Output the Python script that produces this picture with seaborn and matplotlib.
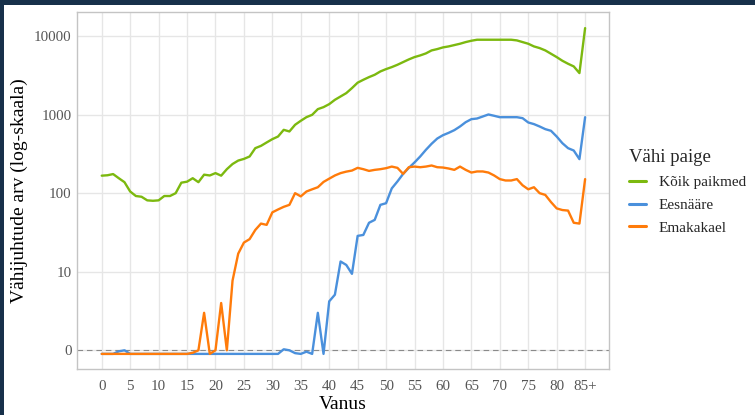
import matplotlib
matplotlib.use("Agg")
import matplotlib.pyplot as plt
from matplotlib.patches import Rectangle
from matplotlib.lines import Line2D
import numpy as np
import pandas as pd
import seaborn as sns

# Age groups (last one is 85+)
ages = list(range(86))
x_ticks = list(range(0, 86, 5))
x_tick_labels = [str(a) for a in range(0, 85, 5)] + ["85+"]

# Cases per age, three cancer sites
koik_paikmed = [167, 169, 175, 155, 138, 105, 92, 90, 81, 80,
                81, 92, 92, 100, 136, 140, 155, 138, 172, 168,
                180, 167, 202, 235, 260, 273, 293, 374, 400, 442,
                487, 526, 640, 610, 742, 834, 928, 994, 1174, 1245,
                1359, 1543, 1702, 1877, 2174, 2550, 2775, 3001, 3214, 3544,
                3795, 4024, 4309, 4661, 5040, 5397, 5667, 6010, 6561, 6823,
                7166, 7379, 7674, 7980, 8378, 8713, 8974, 8974, 8974, 8974,
                8974, 8974, 8974, 8800, 8378, 7980, 7379, 7026, 6561, 5951,
                5397, 4846, 4438, 4105, 3376, 12620]
eesnaare = [0.9, 0.9, 0.9, 0.97, 1.0, 0.9, 0.9, 0.9, 0.9, 0.9,
            0.9, 0.9, 0.9, 0.9, 0.9, 0.9, 0.9, 0.9, 0.9, 0.9,
            0.9, 0.9, 0.9, 0.9, 0.9, 0.9, 0.9, 0.9, 0.9, 0.9,
            0.9, 0.9, 1.03, 1.0, 0.92, 0.9, 0.96, 0.9, 3.0, 0.9,
            4.2, 5.1, 13.5, 12.2, 9.4, 28.6, 29.4, 42, 45.7, 71,
            74.5, 115, 141, 176, 210, 246, 293, 356, 425, 496,
            547, 586, 634, 706, 801, 875, 892, 946, 1004, 966,
            927, 927, 927, 927, 901, 794, 757, 706, 653, 622,
            526, 433, 374, 349, 271, 927]
emakakael = [0.9, 0.9, 0.9, 0.9, 0.9, 0.9, 0.9, 0.9, 0.9, 0.9,
             0.9, 0.9, 0.9, 0.9, 0.9, 0.9, 0.93, 1.0, 3.0, 0.9,
             1.0, 4.0, 1.0, 7.7, 17, 23.5, 26, 34, 41, 39.5,
             57, 62, 67, 71, 100, 91, 105, 112, 119, 139,
             153, 168, 180, 188, 194, 210, 202, 192, 198, 202,
             208, 218, 210, 176, 214, 218, 214, 218, 225, 214,
             212, 206, 198, 218, 198, 183, 189, 189, 183, 168,
             151, 145, 145, 151, 126, 112, 119, 100, 95, 77,
             64, 61, 60, 42, 41, 151]

sites = ["Kõik paikmed", "Eesnääre", "Emakakael"]
colors = ["#7cb90f", "#4a90dc", "#ff7b0a"]
y_ticks = [1, 10, 100, 1000, 10000]
y_tick_labels = ["0", "10", "100", "1000", "10000"]

df = pd.concat([
    pd.DataFrame({"Vanus": ages, "Arv": vals, "Vähi paige": name})
    for name, vals in zip(sites, [koik_paikmed, eesnaare, emakakael])
], ignore_index=True)

sns.set_style("white")
plt.rcParams["font.family"] = ["Liberation Serif", "DejaVu Serif"]

W, H = 755, 415
fig = plt.figure(figsize=(W / 100, H / 100), dpi=100)
fig.patch.set_facecolor("#17304a")
fig.add_artist(Rectangle((4 / W, 0), 1, (H - 5) / H, transform=fig.transFigure,
                         facecolor="white", edgecolor="none", zorder=-10))

ax_w, ax_h = 609 - 77, 369 - 12
ax = fig.add_axes([77 / W, (H - 369) / H, ax_w / W, ax_h / H])
ax.set_facecolor("white")

sns.lineplot(data=df, x="Vanus", y="Arv", hue="Vähi paige", hue_order=sites,
             palette=colors, linewidth=1.7, ax=ax, legend=False, zorder=3)

ax.set_yscale("log")
ax.set_ylim(0.578, 20230)
ax.set_xlim(-4.35, 89.2)
ax.set_yticks(y_ticks)
ax.set_yticklabels(y_tick_labels)
ax.yaxis.set_minor_locator(matplotlib.ticker.NullLocator())
ax.set_xticks(x_ticks)
ax.set_xticklabels(x_tick_labels)

ax.grid(True, color="#e6e6e6", linewidth=1.0, zorder=0)
ax.set_axisbelow(True)
ax.axhline(1, color="#8a8a8a", linestyle=(0, (5, 3.5)), linewidth=0.8, zorder=2)

for s in ax.spines.values():
    s.set_color("#c4c4c4")
    s.set_linewidth(1.0)

ax.tick_params(axis="both", length=0, labelsize=10.8, labelcolor="#555555")
ax.tick_params(axis="x", pad=8)
ax.tick_params(axis="y", pad=4)

ax.set_xlabel("Vanus", fontsize=14, color="black")
ax.xaxis.set_label_coords(0.5, -(404 - 369) / ax_h)
ax.xaxis.label.set_va("center")
ax.set_ylabel("Vähijuhtude arv (log-skaala)", fontsize=14, color="black")
ax.yaxis.set_label_coords(-(77 - 28) / ax_w, 0.5)

handles = [Line2D([0], [0], color=c, linewidth=2.2) for c in colors]
leg = fig.legend(handles, sites, title="Vähi paige", frameon=False,
                 loc="upper left", bbox_to_anchor=(615 / W, 1 - 135.5 / H),
                 fontsize=11, title_fontsize=13.5, handlelength=1.1,
                 handletextpad=0.85, labelspacing=0.6)
leg._legend_box.align = "left"

fig.savefig("out.png", dpi=100, facecolor=fig.get_facecolor())
